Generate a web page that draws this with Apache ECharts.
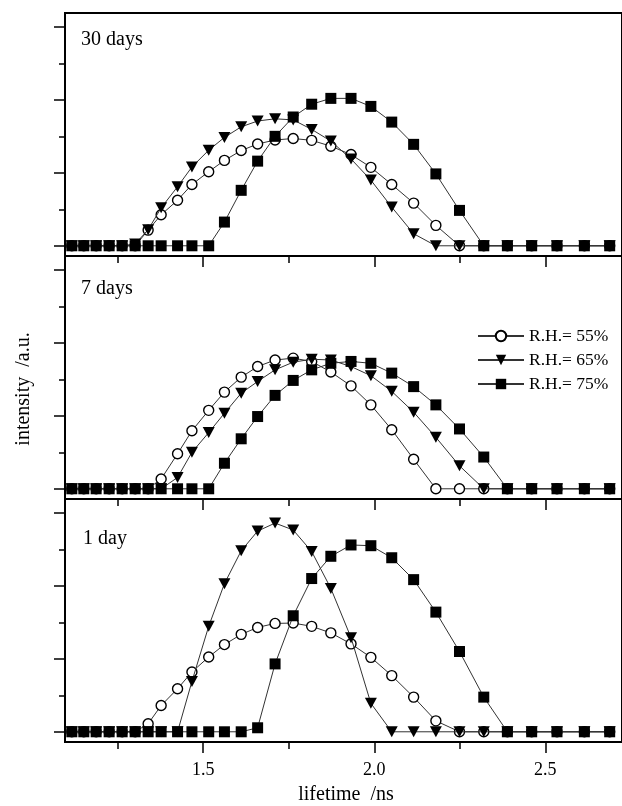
<!DOCTYPE html>
<html>
<head>
<meta charset="utf-8">
<title>lifetime distribution vs R.H.</title>
<script src="https://cdn.jsdelivr.net/npm/echarts@6/dist/echarts.min.js"></script>
<style>
  html, body { margin: 0; padding: 0; background: #fff; }
  #chart { width: 622px; height: 806px; }
</style>
</head>
<body>
<div id="chart"></div>
<script>
  // lifetime grid /ns
  var lifetime = [1.116, 1.151, 1.187, 1.225, 1.263, 1.301, 1.339, 1.377, 1.425, 1.467,
                  1.516, 1.562, 1.611, 1.659, 1.710, 1.763, 1.817, 1.873, 1.932, 1.990,
                  2.051, 2.115, 2.180, 2.249, 2.320, 2.389, 2.460, 2.534, 2.614, 2.688];

  // 30 days
  var rh55_30 = [0, 0, 0, 0, 0, 0, 0.43, 0.85, 1.25, 1.68, 2.03, 2.34, 2.61, 2.79, 2.90,
                 2.94, 2.89, 2.73, 2.50, 2.15, 1.68, 1.17, 0.56, 0, 0, 0, 0, 0, 0, 0];
  var rh65_30 = [0, 0, 0, 0, 0, 0.05, 0.44, 1.04, 1.62, 2.16, 2.62, 2.97, 3.26, 3.42, 3.48,
                 3.45, 3.19, 2.87, 2.38, 1.80, 1.06, 0.33, 0, 0, 0, 0, 0, 0, 0, 0];
  var rh75_30 = [0, 0, 0, 0, 0, 0, 0, 0, 0, 0, 0, 0.65, 1.52, 2.32, 3.00,
                 3.53, 3.88, 4.04, 4.04, 3.82, 3.39, 2.78, 1.97, 0.97, 0, 0, 0, 0, 0, 0];
  // 7 days
  var rh55_7 = [0, 0, 0, 0, 0, 0, 0, 0.27, 0.96, 1.59, 2.15, 2.65, 3.06, 3.35, 3.53,
                3.58, 3.49, 3.20, 2.82, 2.30, 1.62, 0.81, 0, 0, 0, 0, 0, 0, 0, 0];
  var rh65_7 = [0, 0, 0, 0, 0, 0, 0, 0, 0.31, 1.00, 1.54, 2.07, 2.62, 2.94, 3.26,
                3.47, 3.55, 3.53, 3.35, 3.10, 2.67, 2.10, 1.41, 0.63, 0, 0, 0, 0, 0, 0];
  var rh75_7 = [0, 0, 0, 0, 0, 0, 0, 0, 0, 0, 0, 0.70, 1.37, 1.98, 2.56,
                2.97, 3.26, 3.44, 3.49, 3.44, 3.17, 2.80, 2.30, 1.64, 0.87, 0, 0, 0, 0, 0];
  // 1 day
  var rh55_1 = [0, 0, 0, 0, 0, 0, 0.22, 0.72, 1.18, 1.64, 2.05, 2.39, 2.67, 2.86, 2.97,
                2.98, 2.89, 2.71, 2.41, 2.04, 1.54, 0.95, 0.30, 0, 0, 0, 0, 0, 0, 0];
  var rh65_1 = [0, 0, 0, 0, 0, 0, 0, 0, 0, 1.38, 2.89, 4.06, 4.96, 5.50, 5.72,
                5.53, 4.94, 3.93, 2.58, 0.78, 0, 0, 0, 0, 0, 0, 0, 0, 0, 0];
  var rh75_1 = [0, 0, 0, 0, 0, 0, 0, 0, 0, 0, 0, 0, 0, 0.11, 1.86,
                3.18, 4.20, 4.81, 5.12, 5.10, 4.77, 4.17, 3.28, 2.20, 0.95, 0, 0, 0, 0, 0];

  var panelNames = ['30 days', '7 days', '1 day'];
  var seriesNames = ['R.H.= 55%', 'R.H.= 65%', 'R.H.= 75%'];
  var panelData = [
    [rh55_30, rh65_30, rh75_30],
    [rh55_7, rh65_7, rh75_7],
    [rh55_1, rh65_1, rh75_1]
  ];
  var xMajorTicks = [1.5, 2.0, 2.5];
  var xMinorTicks = [1.25, 1.75, 2.25];
  var yMajorTicks = [0, 2, 4, 6];
  var yMinorTicks = [1, 3, 5];

  var serif = '"Liberation Serif", "DejaVu Serif", serif';
  var gridTops = [13, 256, 499];
  var labelY = [40, 289, 539];
  var labelX = [81, 81, 83];

  var grids = [], xAxes = [], yAxes = [], series = [], texts = [];

  // symbols: open circle, down triangle, filled square
  var symbols = ['circle', 'path://M0,0 L12,0 L6,11 Z', 'rect'];
  var symbolSizes = [10, [12, 11], 11];
  var fills = ['#fff', '#000', '#000'];

  for (var p = 0; p < 3; p++) {
    grids.push({
      left: 65, top: gridTops[p], width: 565, height: 243,
      show: true, borderColor: '#000', borderWidth: 2, backgroundColor: 'transparent'
    });
    var last = p === 2;
    // major x ticks (+ labels on the bottom panel)
    xAxes.push({
      type: 'value', gridIndex: p, position: 'bottom', offset: 0, min: 1.096, max: 2.724,
      axisLine: { show: true, onZero: false, lineStyle: { color: '#000', width: 2 } },
      axisTick: { show: true, customValues: xMajorTicks, length: 11, lineStyle: { color: '#000', width: 1.5 } },
      axisLabel: {
        show: last, customValues: xMajorTicks, margin: 19,
        fontFamily: serif, fontSize: 18, color: '#000',
        formatter: function (v) { return v.toFixed(1); }
      },
      splitLine: { show: false }
    });
    // minor x ticks
    xAxes.push({
      type: 'value', gridIndex: p, position: 'bottom', offset: 0, min: 1.096, max: 2.724,
      axisLine: { show: false, onZero: false },
      axisTick: { show: true, customValues: xMinorTicks, length: 7, lineStyle: { color: '#000', width: 1.5 } },
      axisLabel: { show: false },
      splitLine: { show: false }
    });
    yAxes.push({
      type: 'value', gridIndex: p, position: 'left', offset: 0, min: -0.28, max: 6.38,
      axisLine: { show: true, onZero: false, lineStyle: { color: '#000', width: 2 } },
      axisTick: { show: true, customValues: yMajorTicks, length: 11, lineStyle: { color: '#000', width: 1.5 } },
      axisLabel: { show: false },
      splitLine: { show: false }
    });
    yAxes.push({
      type: 'value', gridIndex: p, position: 'left', offset: 0, min: -0.28, max: 6.38,
      axisLine: { show: false, onZero: false },
      axisTick: { show: true, customValues: yMinorTicks, length: 6, lineStyle: { color: '#000', width: 1.5 } },
      axisLabel: { show: false },
      splitLine: { show: false }
    });

    for (var s = 0; s < 3; s++) {
      var vals = panelData[p][s];
      var pts = [];
      for (var i = 0; i < lifetime.length; i++) {
        pts.push([lifetime[i], vals[i]]);
      }
      series.push({
        name: seriesNames[s],
        type: 'line',
        xAxisIndex: p * 2,
        yAxisIndex: p * 2,
        data: pts,
        symbol: symbols[s],
        symbolSize: symbolSizes[s],
        showAllSymbol: true,
        clip: false,
        lineStyle: { color: '#333', width: 1 },
        itemStyle: { color: fills[s], borderColor: '#000', borderWidth: s === 0 ? 1.4 : 0 },
        emphasis: { disabled: true },
        z: 2 + s
      });
    }

    texts.push({
      type: 'text', left: labelX[p], top: labelY[p] - 10,
      style: { text: panelNames[p], font: '20px ' + serif, fill: '#000' }
    });
  }

  texts.push({
    type: 'text', x: 346, y: 795,
    style: { text: 'lifetime  /ns', font: '20px ' + serif, fill: '#000', align: 'center', verticalAlign: 'middle' }
  });
  texts.push({
    type: 'text', x: 24, y: 389, rotation: Math.PI / 2,
    style: { text: 'intensity  /a.u.', font: '20px ' + serif, fill: '#000', align: 'center', verticalAlign: 'middle' }
  });

  var option = {
    animation: false,
    backgroundColor: '#fff',
    grid: grids,
    xAxis: xAxes,
    yAxis: yAxes,
    legend: {
      data: seriesNames,
      orient: 'vertical',
      left: 472, top: 322,
      itemWidth: 46, itemHeight: 13, itemGap: 6,
      selectedMode: false,
      textStyle: { fontFamily: serif, fontSize: 17.5, color: '#000' }
    },
    graphic: texts,
    series: series
  };

  var myChart = echarts.init(document.getElementById('chart'));
  myChart.setOption(option);
</script>
</body>
</html>
